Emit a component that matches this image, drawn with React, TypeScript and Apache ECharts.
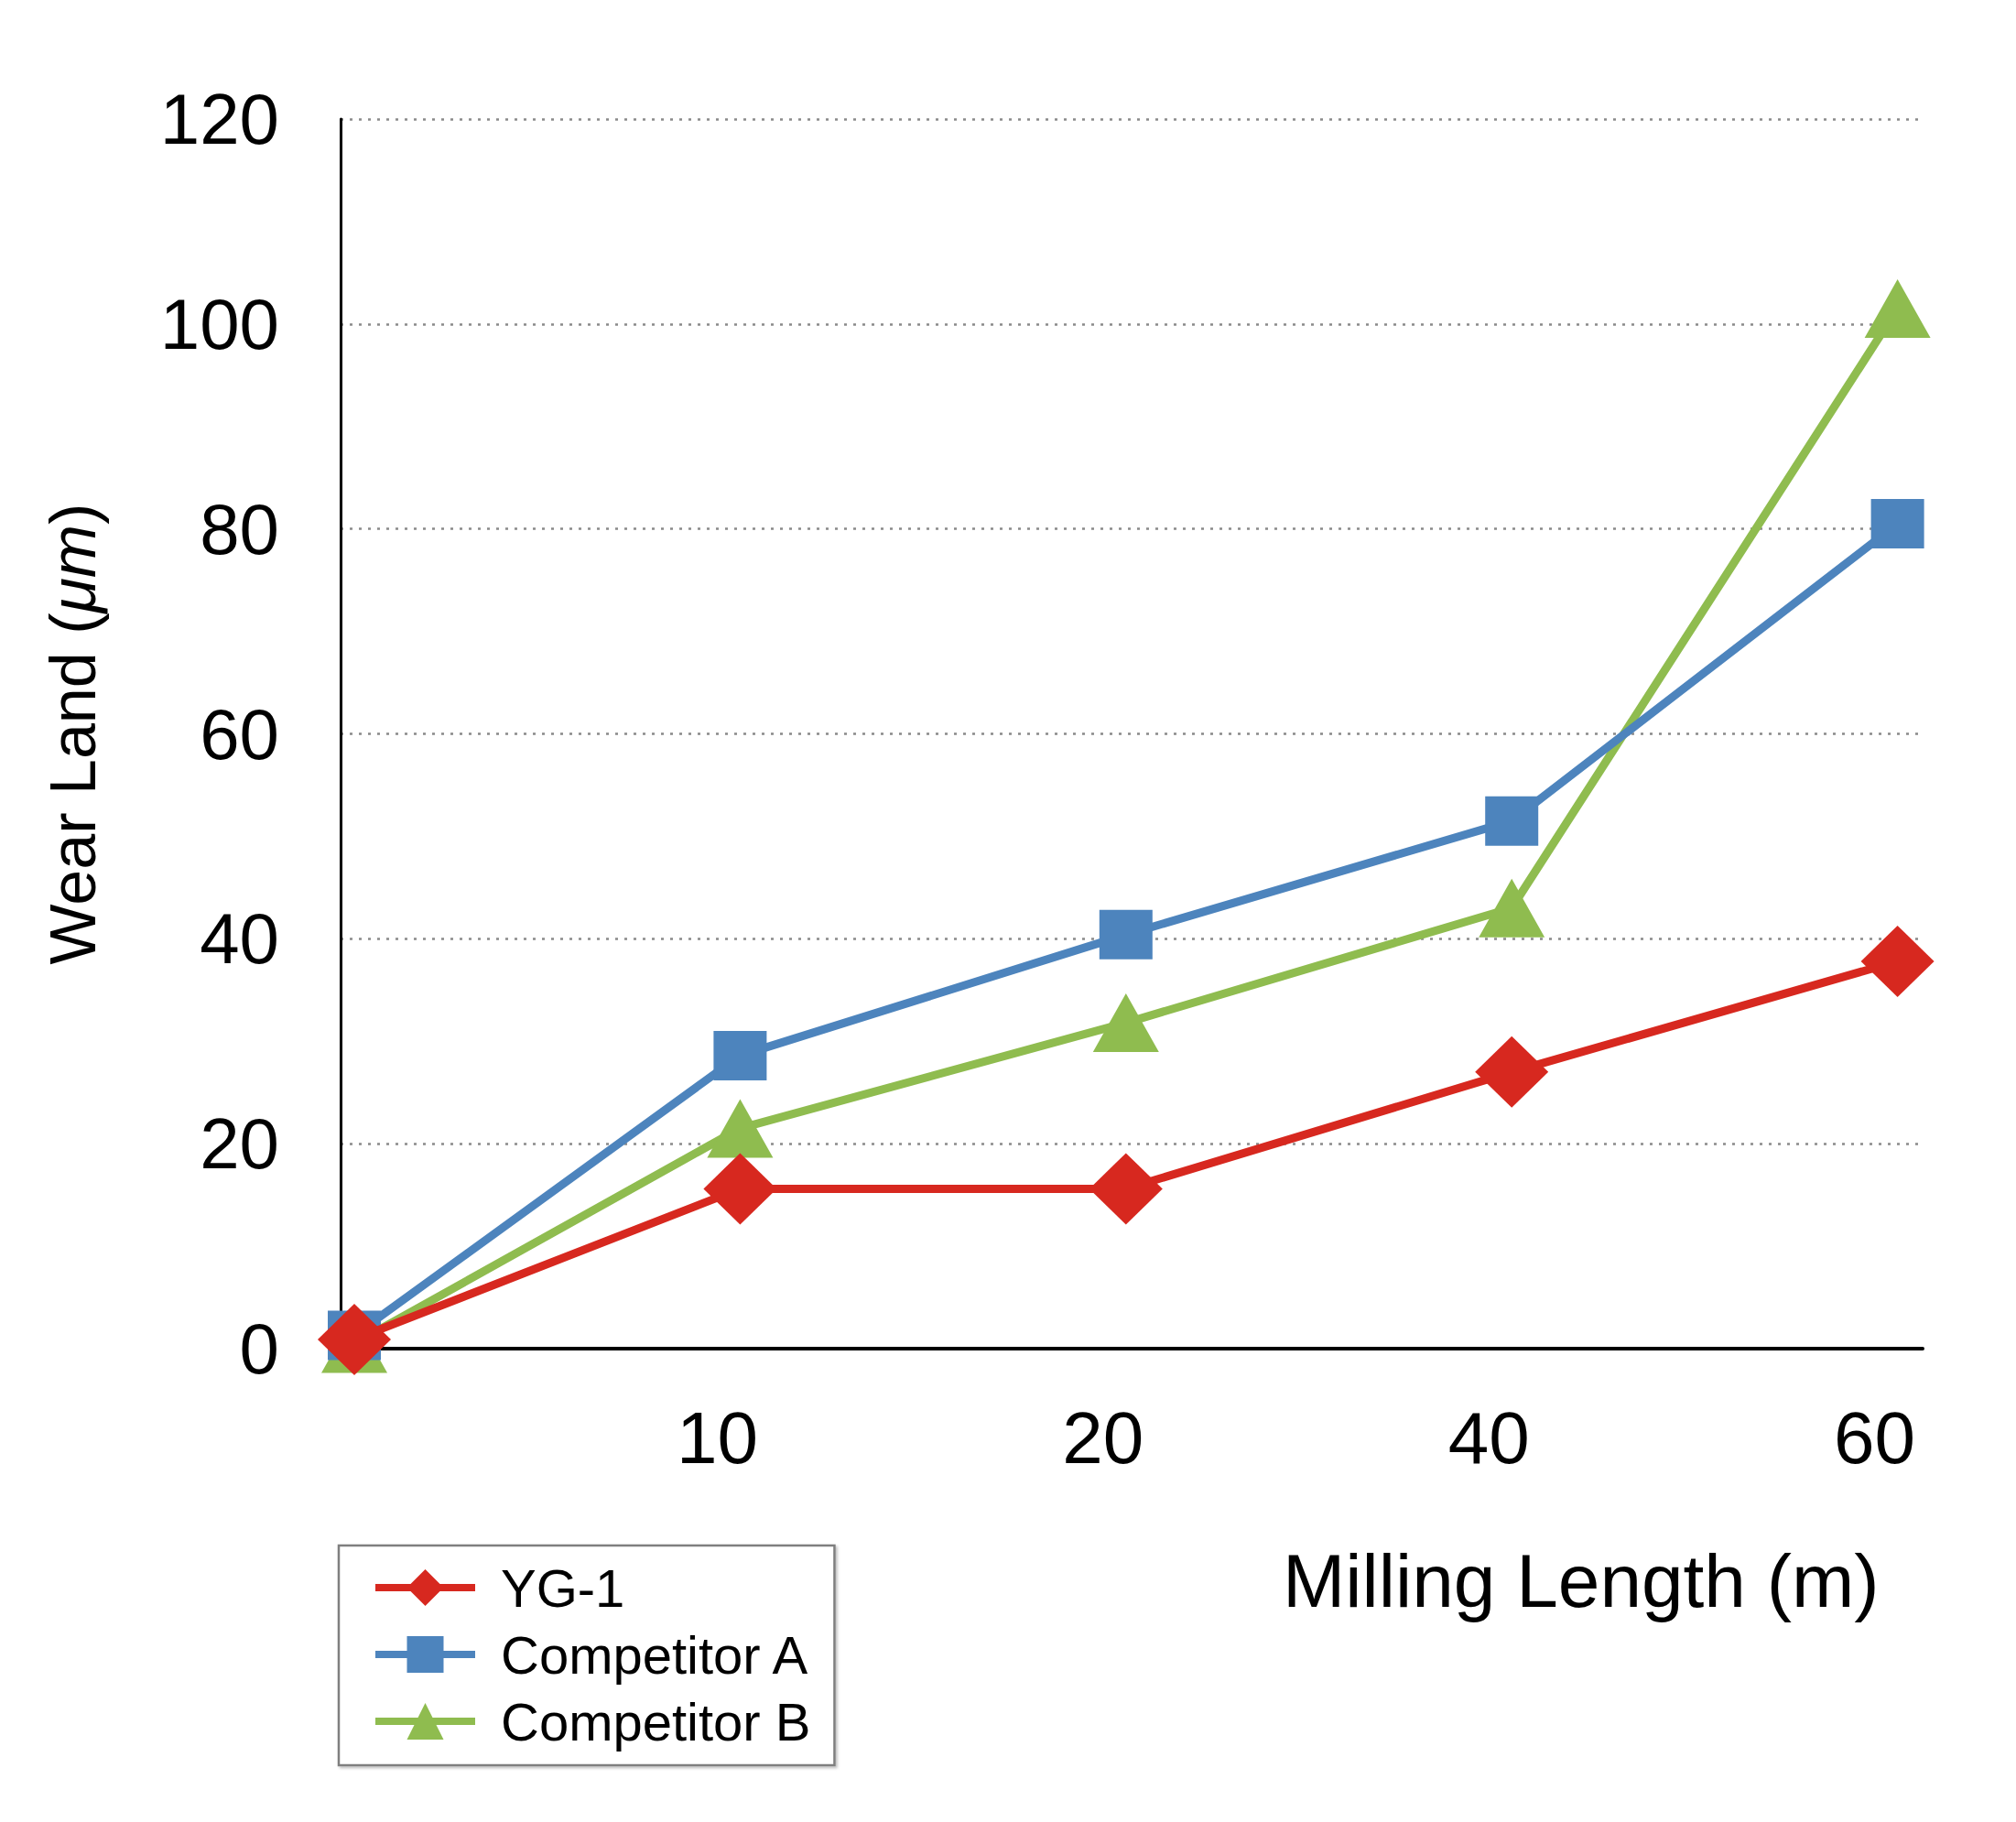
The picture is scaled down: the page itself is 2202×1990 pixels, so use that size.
import React, { useEffect, useRef } from "react";
import * as echarts from "echarts";

// Milling length categories (m)
const lengths = ["0", "10", "20", "40", "60"];
// Wear land (µm) per series
const yg1 = [0.9, 15.6, 15.6, 27.0, 37.8];
const compA = [1.3, 28.6, 40.4, 51.5, 80.5];
const compB = [0.5, 21.5, 31.8, 43.0, 101.5];
const seriesNames = ["YG-1", "Competitor A", "Competitor B"];
const yMin = 0;
const yMax = 120;
const yStep = 20;

const FONT = "'Liberation Sans', Arial, Helvetica, sans-serif";

export default function App() {
  const ref = useRef<HTMLDivElement>(null);

  useEffect(() => {
    if (!ref.current) return;
    const chart = echarts.init(ref.current, undefined, { renderer: "svg" });

    const toPts = (arr: number[]) => arr.map((v, i) => [i, v]);
    const labelIdx = lengths.map((_, i) => i).filter((i) => i > 0);

    const option: any = {
      animation: false,
      backgroundColor: "#ffffff",
      textStyle: { fontFamily: FONT, color: "#000" },
      grid: { left: 372, right: 102, top: 130, bottom: 517, containLabel: false },
      xAxis: {
        type: "value",
        min: -0.0356,
        max: 4.065,
        axisLine: { show: true, onZero: false, lineStyle: { color: "#000", width: 4 } },
        axisTick: { show: false },
        splitLine: { show: false },
        axisLabel: {
          customValues: labelIdx,
          formatter: (v: number) => lengths[Math.round(v)],
          fontSize: 80,
          fontFamily: FONT,
          color: "#000",
          margin: 57,
          padding: [0, 50, 0, 0],
        },
      },
      yAxis: {
        type: "value",
        min: yMin,
        max: yMax,
        interval: yStep,
        name: "{n|Wear Land (}{i|μm}{n|)}",
        nameLocation: "middle",
        nameGap: 257,
        nameTextStyle: {
          rich: {
            n: { fontSize: 70, fontFamily: FONT, color: "#000" },
            i: { fontSize: 70, fontFamily: FONT, color: "#000", fontStyle: "italic" },
          },
        },
        axisLine: { show: true, onZero: false, lineStyle: { color: "#000", width: 3 } },
        axisTick: { show: false },
        axisLabel: {
          fontSize: 78,
          fontFamily: FONT,
          color: "#000",
          margin: 67,
          padding: [0, 0, 14, 0],
        },
        splitLine: {
          show: true,
          lineStyle: { color: "#8a8a8a", width: 2.5, type: [3, 7] },
        },
      },
      legend: {
        orient: "vertical",
        left: 370,
        top: 1688,
        data: seriesNames,
        itemWidth: 109,
        itemHeight: 50,
        itemGap: 15,
        padding: [17, 26, 19, 36],
        borderColor: "#7f7f7f",
        borderWidth: 2.5,
        backgroundColor: "#ffffff",
        shadowColor: "rgba(0,0,0,0.25)",
        shadowBlur: 3,
        shadowOffsetX: 2,
        shadowOffsetY: 2,
        lineStyle: { width: 8 },
        textStyle: {
          fontSize: 58,
          fontFamily: FONT,
          color: "#000",
          padding: [0, 0, 0, 23],
        },
      },
      graphic: [
        {
          type: "text",
          left: 1401,
          top: 1685,
          style: {
            text: "Milling Length (m)",
            fontSize: 82,
            fontFamily: FONT,
            fill: "#000",
          },
        },
      ],
      series: [
        {
          name: "Competitor B",
          type: "line",
          data: toPts(compB),
          symbol: "triangle",
          symbolSize: [72, 64],
          lineStyle: { color: "#8fbc4f", width: 9 },
          itemStyle: { color: "#8fbc4f" },
          z: 2,
        },
        {
          name: "Competitor A",
          type: "line",
          data: toPts(compA),
          symbol: "rect",
          symbolSize: [58, 54],
          lineStyle: { color: "#4d84bd", width: 9 },
          itemStyle: { color: "#4d84bd" },
          z: 3,
        },
        {
          name: "YG-1",
          type: "line",
          data: toPts(yg1),
          symbol: "diamond",
          symbolSize: [80, 78],
          lineStyle: { color: "#d7281f", width: 9 },
          itemStyle: { color: "#d7281f" },
          z: 4,
        },
      ],
    };

    chart.setOption(option);
    return () => chart.dispose();
  }, []);

  return (
    <div
      ref={ref}
      style={{ position: "absolute", left: 0, top: 0, width: 2202, height: 1990, background: "#fff" }}
    />
  );
}
